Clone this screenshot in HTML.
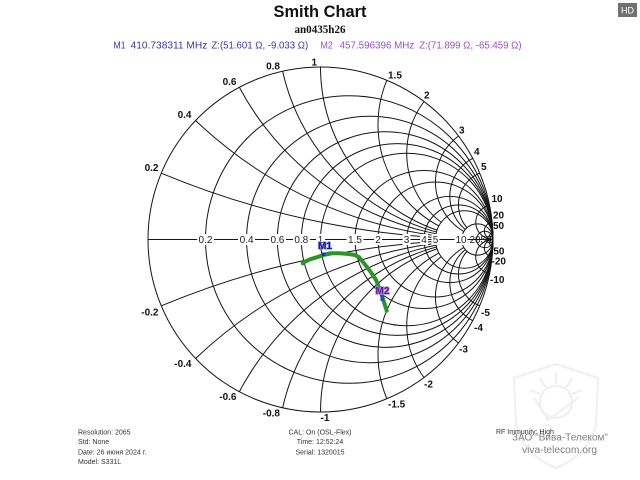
<!DOCTYPE html>
<html>
<head>
<meta charset="utf-8">
<style>
html,body{margin:0;padding:0;background:#fff;width:640px;height:480px;overflow:hidden;}
svg{display:block;}
text{font-family:"Liberation Sans",Arial,sans-serif;}
.g{fill:none;stroke:#151515;stroke-width:1;}
.ol{font-size:10px;font-weight:bold;fill:#111;}
.ax{font-size:10px;fill:#222;text-anchor:middle;}
.sm{font-size:7px;fill:#333;}
</style>
</head>
<body>
<svg width="640" height="480" viewBox="0 0 640 480" xmlns="http://www.w3.org/2000/svg">
<defs>
<mask id="m5" maskUnits="userSpaceOnUse" x="0" y="0" width="640" height="480">
<rect x="0" y="0" width="640" height="480" fill="#fff"/>
<circle cx="464.25" cy="239.5" r="28.75" fill="#000"/>
</mask>
<mask id="m10" maskUnits="userSpaceOnUse" x="0" y="0" width="640" height="480">
<rect x="0" y="0" width="640" height="480" fill="#fff"/>
<circle cx="477.318" cy="239.5" r="15.682" fill="#000"/>
</mask>
</defs>
<rect x="0" y="0" width="640" height="480" fill="#fff"/>

<!-- watermark shield -->
<g fill="none" stroke="#f1f1f1" stroke-width="2.5">
<path d="M514,378 L556,364 L598,378 L596,425 Q588,455 556,468 Q524,455 516,425 Z"/>
<circle cx="556" cy="402" r="16"/>
<path d="M534,398 L548,420 L578,398"/>
<path d="M556,372 L556,384 M540,378 L546,388 M572,378 L566,388 M530,390 L540,394 M582,390 L572,394"/>
</g>

<!-- header -->
<text x="320" y="17" text-anchor="middle" font-size="17" font-weight="bold" fill="#111" textLength="93" lengthAdjust="spacingAndGlyphs">Smith Chart</text>
<text x="320" y="33" text-anchor="middle" font-size="11.5" font-weight="bold" fill="#111" style="font-family:'Liberation Serif','Times New Roman',serif" textLength="51" lengthAdjust="spacingAndGlyphs">an0435h26</text>
<g font-size="10">
<text x="113.5" y="48.5" fill="#3838a8" textLength="12" lengthAdjust="spacingAndGlyphs">M1</text>
<text x="130.6" y="48.5" fill="#3838a8" textLength="76.7" lengthAdjust="spacingAndGlyphs">410.738311 MHz</text>
<text x="211.4" y="48.5" fill="#3838a8" textLength="96.8" lengthAdjust="spacingAndGlyphs">Z:(51.601 Ω, -9.033 Ω)</text>
<text x="320.4" y="48.5" fill="#9650c8" textLength="12.5" lengthAdjust="spacingAndGlyphs">M2</text>
<text x="339.6" y="48.5" fill="#9650c8" textLength="74.7" lengthAdjust="spacingAndGlyphs">457.596396 MHz</text>
<text x="419.2" y="48.5" fill="#9650c8" textLength="102.4" lengthAdjust="spacingAndGlyphs">Z:(71.899 Ω, -65.459 Ω)</text>
</g>

<!-- HD badge -->
<rect x="618" y="3" width="19" height="14" fill="#707070"/>
<text x="627.5" y="13.5" text-anchor="middle" font-size="9" fill="#fff">HD</text>

<!-- grid: resistance circles -->
<g class="g">
<circle cx="320.5" cy="239.5" r="172.5"/>
<circle cx="349.25" cy="239.5" r="143.75"/>
<circle cx="369.786" cy="239.5" r="123.214"/>
<circle cx="385.1875" cy="239.5" r="107.8125"/>
<circle cx="397.167" cy="239.5" r="95.833"/>
<circle cx="406.75" cy="239.5" r="86.25"/>
<circle cx="424" cy="239.5" r="69"/>
<circle cx="435.5" cy="239.5" r="57.5"/>
<circle cx="449.875" cy="239.5" r="43.125"/>
<circle cx="458.5" cy="239.5" r="34.5"/>
<circle cx="464.25" cy="239.5" r="28.75"/>
<circle cx="477.318" cy="239.5" r="15.682"/>
<circle cx="484.786" cy="239.5" r="8.214"/>
<circle cx="489.618" cy="239.5" r="3.382"/>
<line x1="148" y1="239.5" x2="493" y2="239.5"/>
</g>

<!-- small reactance arcs, stop at r=5 -->
<g class="g" mask="url(#m5)">
<path d="M161.27,173.15 A862.5,862.5 0 0 0 493,239.5"/>
<path d="M195.59,120.53 A431.25,431.25 0 0 0 493,239.5"/>
<path d="M239.32,87.29 A287.5,287.5 0 0 0 493,239.5"/>
<path d="M282.64,71.21 A215.625,215.625 0 0 0 493,239.5"/>
<path d="M320.5,67 A172.5,172.5 0 0 0 493,239.5"/>
<path d="M386.85,80.27 A115,115 0 0 0 493,239.5"/>
<path d="M424,101.5 A86.25,86.25 0 0 0 493,239.5"/>
<path d="M161.27,305.85 A862.5,862.5 0 0 1 493,239.5"/>
<path d="M195.59,358.47 A431.25,431.25 0 0 1 493,239.5"/>
<path d="M239.32,391.71 A287.5,287.5 0 0 1 493,239.5"/>
<path d="M282.64,407.79 A215.625,215.625 0 0 1 493,239.5"/>
<path d="M320.5,412 A172.5,172.5 0 0 1 493,239.5"/>
<path d="M386.85,398.73 A115,115 0 0 1 493,239.5"/>
<path d="M424,377.5 A86.25,86.25 0 0 1 493,239.5"/>
</g>
<!-- medium reactance arcs, stop at r=10 -->
<g class="g" mask="url(#m10)">
<path d="M458.5,136 A57.5,57.5 0 0 0 493,239.5"/>
<path d="M472.7,158.32 A43.125,43.125 0 0 0 493,239.5"/>
<path d="M479.73,173.15 A34.5,34.5 0 0 0 493,239.5"/>
<path d="M458.5,343 A57.5,57.5 0 0 1 493,239.5"/>
<path d="M472.7,320.68 A43.125,43.125 0 0 1 493,239.5"/>
<path d="M479.73,305.85 A34.5,34.5 0 0 1 493,239.5"/>
</g>
<!-- large reactance arcs full -->
<g class="g">
<path d="M489.58,205.34 A17.25,17.25 0 0 0 493,239.5"/>
<path d="M492.14,222.29 A8.625,8.625 0 0 0 493,239.5"/>
<path d="M492.86,232.6 A3.45,3.45 0 0 0 493,239.5"/>
<path d="M489.58,273.66 A17.25,17.25 0 0 1 493,239.5"/>
<path d="M492.14,256.71 A8.625,8.625 0 0 1 493,239.5"/>
<path d="M492.86,246.4 A3.45,3.45 0 0 1 493,239.5"/>
</g>

<!-- real axis labels with white backgrounds -->
<g fill="#fff">
<rect x="197" y="234" width="17" height="11"/>
<rect x="238" y="234" width="17" height="11"/>
<rect x="269" y="234" width="17" height="11"/>
<rect x="293" y="234" width="17" height="11"/>
<rect x="316" y="234" width="9" height="11"/>
<rect x="346.5" y="234" width="17" height="11"/>
<rect x="374" y="234" width="8" height="11"/>
<rect x="402.5" y="234" width="8" height="11"/>
<rect x="420" y="234" width="8" height="11"/>
<rect x="431.5" y="234" width="8" height="11"/>
<rect x="454.5" y="234" width="13" height="11"/>
</g>
<g class="ax">
<text x="205.5" y="243">0.2</text>
<text x="246.6" y="243">0.4</text>
<text x="277.4" y="243">0.6</text>
<text x="301.3" y="243">0.8</text>
<text x="320.5" y="243">1</text>
<text x="355" y="243">1.5</text>
<text x="378" y="243">2</text>
<text x="406.5" y="243">3</text>
<text x="424" y="243">4</text>
<text x="435.5" y="243">5</text>
<text x="461" y="243">10</text>
<text x="475" y="243">20</text>
<text x="486" y="243">50</text>
</g>

<!-- outer reactance labels -->
<g class="ol" text-anchor="end">
<text x="158.5" y="171">0.2</text>
<text x="191.5" y="118">0.4</text>
<text x="236.5" y="85">0.6</text>
<text x="280" y="69.5">0.8</text>
<text x="317" y="65.5">1</text>
<text x="158.5" y="315.5">-0.2</text>
<text x="191.5" y="367">-0.4</text>
<text x="236.5" y="400">-0.6</text>
<text x="280" y="416.5">-0.8</text>
</g>
<g class="ol" text-anchor="start">
<text x="320.5" y="421">-1</text>
<text x="388" y="78.5">1.5</text>
<text x="424" y="98.5">2</text>
<text x="459" y="133.5">3</text>
<text x="474" y="155">4</text>
<text x="481" y="170">5</text>
<text x="491.5" y="202">10</text>
<text x="493" y="218.5">20</text>
<text x="493" y="229">50</text>
<text x="388" y="407.5">-1.5</text>
<text x="424" y="387.5">-2</text>
<text x="459" y="352.5">-3</text>
<text x="474" y="331">-4</text>
<text x="481" y="316">-5</text>
<text x="490" y="283">-10</text>
<text x="491.5" y="264.5">-20</text>
<text x="490" y="254.5">-50</text>
</g>

<!-- trace -->
<polyline fill="none" stroke="#2a962a" stroke-width="4" stroke-linejoin="round" stroke-linecap="round"
points="302.7,263.3 305,261.7 310,259.3 316.7,257.3 323.3,255 330,253.3 340,253.3 348.3,254 355,255 359.3,257.3 362.7,261.7 366.7,266.7 371.7,273.3 376,280 379.3,288.3 382.3,296.7 384.3,303.3 386,308.3 386.7,310.7"/>

<!-- markers -->
<rect x="322" y="252.5" width="3.5" height="3.5" fill="#2030c8"/>
<text x="325" y="249" text-anchor="middle" font-size="10" font-weight="bold" fill="#14149a" stroke="#7f8ce0" stroke-width="1.2" paint-order="stroke">M1</text>
<rect x="380.5" y="295" width="3.5" height="6" fill="#2848c0"/>
<text x="382.5" y="294" text-anchor="middle" font-size="10" font-weight="bold" fill="#5a1896" stroke="#b48ad8" stroke-width="1.6" paint-order="stroke">M2</text>

<!-- footer -->
<g class="sm">
<text x="78" y="434.5">Resolution: 2065</text>
<text x="78" y="444">Std: None</text>
<text x="78" y="454.5">Date: 26 июня 2024 г.</text>
<text x="78" y="464">Model: S331L</text>
<text x="320" y="434.5" text-anchor="middle">CAL: On (OSL-Flex)</text>
<text x="320" y="444" text-anchor="middle">Time: 12:52:24</text>
<text x="320" y="454.5" text-anchor="middle">Serial: 1320015</text>
<text x="496" y="434">RF Immunity: High</text>
</g>
<text x="560" y="440.5" text-anchor="middle" font-size="10" fill="#808080" textLength="96" lengthAdjust="spacingAndGlyphs">ЗАО "Вива-Телеком"</text>
<text x="559.5" y="453" text-anchor="middle" font-size="10" fill="#808080" textLength="75" lengthAdjust="spacingAndGlyphs">viva-telecom.org</text>
</svg>
</body>
</html>
